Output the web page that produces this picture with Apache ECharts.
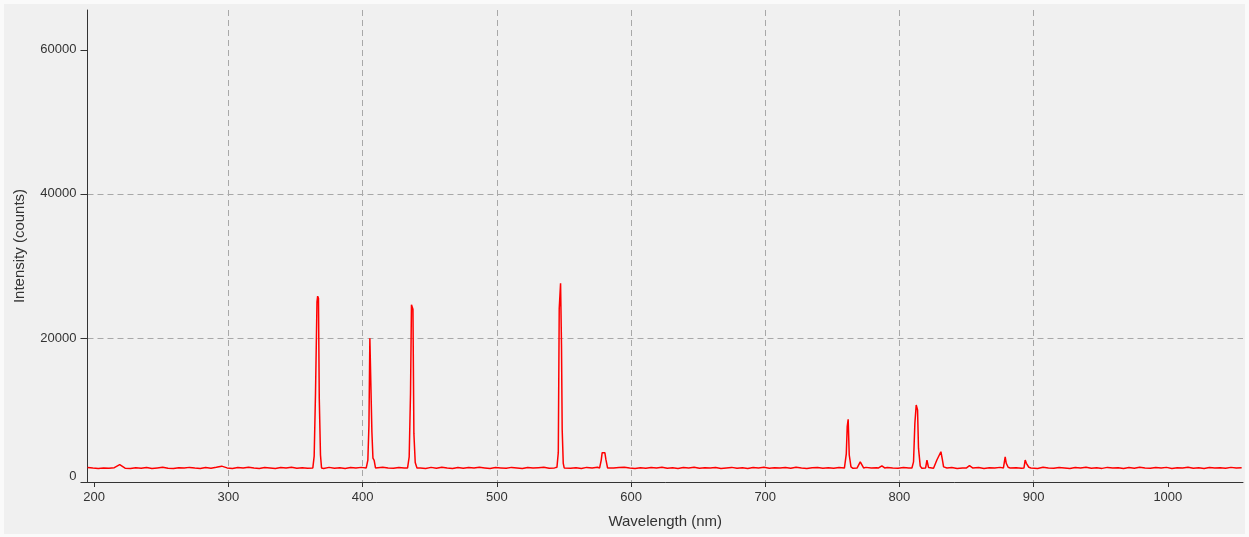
<!DOCTYPE html>
<html><head><meta charset="utf-8">
<script src="https://cdn.jsdelivr.net/npm/echarts@6/dist/echarts.min.js"></script>
<style>html,body{margin:0;padding:0;background:#fafafa;} #c{position:absolute;left:4px;top:4px;width:1241px;height:530px;}</style>
</head><body><div id="c"></div>
<script>
// Axis ticks
const xTickValues = [200, 300, 400, 500, 600, 700, 800, 900, 1000];
const yTickValues = [0, 20000, 40000, 60000];
const xName = 'Wavelength (nm)';
const yName = 'Intensity (counts)';

// Baseline (dark level) readings, sampled every 4 nm starting at 195 nm
const baseStartNm = 195;
const baseStepNm = 4;
const baselineCounts = [
  2010,1930,1880,1960,1900,1990,2400,1920,1870,1980,
  1900,2020,1860,1950,2040,1910,1870,1990,1930,2030,
  1950,1880,2000,1920,2050,2200,1960,1890,2010,1930,
  2040,1940,1890,2020,1960,1870,2000,1930,2050,1910,
  1980,1900,2000,1960,1880,2030,1920,1990,1870,2010,
  1940,2030,1950,1900,1880,2040,1960,1900,2020,1950,
  1970,1990,1960,1880,2030,1920,2050,1940,1890,2020,
  1900,2010,1930,2040,1960,1870,2000,1950,1900,2030,
  1960,1880,2020,1930,1990,2050,1900,1960,1980,2000,
  1920,1990,1870,2030,1950,2040,1900,1980,1930,2010,
  2040,1940,1880,1990,1910,2020,1950,2050,1900,1970,
  1880,2000,1940,2040,1900,1980,1930,2020,1870,1960,
  2030,1920,1990,1880,2010,1950,2040,1910,1970,1930,
  2000,1900,2050,1950,1880,1990,2020,1920,1980,1900,
  2010,1940,1960,1890,1950,2030,1930,1970,1880,2020,
  1950,1900,2000,1940,1920,1960,1900,1990,1950,1980,
  1930,2010,1890,1960,2040,1920,2000,1870,1980,1940,
  2030,1960,1950,1990,1900,1930,2010,1880,2040,1950,
  1900,2020,1960,1870,2000,1940,2050,1910,1980,1890,
  2030,1950,1990,1880,2010,1920,2040,1960,1900,2000,
  1940,2030,1880,1990,1950,2050,1910,1970,1880,2020,
  1950,1990,1900,2030,1940,1980
];

// Emission lines: [wavelength nm, counts]
const peak366 = [[362.9,1950],[363.9,3600],[364.9,12400],[366.0,25000],[366.5,25800],[367.1,25500],[367.7,11600],[368.6,3750],[369.4,1950]];
const peak405 = [[402.7,1950],[403.9,3050],[404.7,7800],[405.4,19950],[406.2,19900],[406.9,7000],[407.7,3300],[408.6,3000],[409.6,1950]];
const peak436 = [[433.5,1950],[434.7,3500],[435.7,12400],[436.4,24600],[437.5,24000],[438.2,6750],[439.2,2700],[440.5,1950]];
const peak547 = [[544.8,2050],[545.8,4070],[546.5,24100],[547.5,27600],[548.0,27500],[548.2,18800],[548.7,7300],[549.5,2600],[550.2,1950]];
const peak579 = [[576.6,1950],[577.8,3050],[578.5,4070],[579.5,3850],[580.5,4070],[581.3,3100],[582.5,1950]];
const peak762 = [[759.6,1950],[760.4,3900],[761.1,7700],[761.8,8700],[762.6,3750],[763.9,2100],[765.4,1900],[768.5,1950],[770.8,2800],[773.3,1950]];
const peak787 = [[784.5,1950],[786.9,2250],[789.0,1950]];
const peak812 = [[809.3,1950],[810.5,2800],[811.5,8150],[812.5,10700],[813.5,10000],[814.2,4700],[815.5,2200],[816.7,1900],[819.5,1950],[820.5,3050],[821.7,2000],[825.4,1900],[827.9,3050],[829.1,2800],[830.9,4200],[831.9,3200],[832.9,2100],[835.4,1950]];
const peak852 = [[850.0,1950],[852.2,2260],[854.5,1950]];
const peak879 = [[877.5,1950],[878.2,2800],[878.8,3500],[879.6,2600],[881.0,2050],[882.5,1950]];
const peak894 = [[892.8,1950],[893.7,3050],[894.6,2600],[896.4,2050],[898.0,1950]];

const peaks = [peak366, peak405, peak436, peak547, peak579, peak762, peak787, peak812, peak852, peak879, peak894];

// Assemble the spectrum
let spectrum = [];
baselineCounts.forEach((c, i) => {
  const wl = baseStartNm + baseStepNm * i;
  const inside = peaks.some(p => wl >= p[0][0] && wl <= p[p.length - 1][0]);
  if (!inside) spectrum.push([wl, c]);
});
peaks.forEach(p => p.forEach(pt => spectrum.push(pt)));
spectrum.sort((a, b) => a[0] - b[0]);

const chart = echarts.init(document.getElementById('c'), null, {renderer: 'canvas'});
const font = '"Liberation Sans", Arial, sans-serif';
const gridStyle = {show: true, showMinLine: false, showMaxLine: false, lineStyle: {color: '#a8a8a8', type: [6, 4], width: 1}};
chart.setOption({
  backgroundColor: '#f0f0f0',
  animation: false,
  grid: {left: 83.5, top: 6, width: 1155.5, height: 472, containLabel: false},
  xAxis: {
    type: 'value', min: 195, max: 1056, interval: 100,
    name: xName, nameLocation: 'middle', nameGap: 32,
    nameTextStyle: {fontFamily: font, fontSize: 15, color: '#333'},
    axisLine: {show: true, onZero: false, lineStyle: {color: '#333', width: 1}},
    axisTick: {show: true, length: 5, lineStyle: {color: '#333'}, customValues: xTickValues},
    axisLabel: {fontFamily: font, fontSize: 13, color: '#333', margin: 9, customValues: xTickValues,
      formatter: v => String(v)},
    splitLine: gridStyle
  },
  yAxis: {
    type: 'value', min: 0, max: 65535, interval: 20000,
    name: yName, nameLocation: 'middle', nameGap: 60, nameRotate: 90,
    nameTextStyle: {fontFamily: font, fontSize: 15, color: '#333'},
    axisLine: {show: true, lineStyle: {color: '#333', width: 1}},
    axisTick: {show: true, length: 7, lineStyle: {color: '#333'}, customValues: yTickValues},
    axisLabel: {fontFamily: font, fontSize: 13, color: '#333', margin: 11, customValues: yTickValues,
      formatter: v => v === 0 ? '{z|0}' : String(v),
      rich: {z: {fontFamily: font, fontSize: 13, color: '#333', padding: [0, 0, 11, 0]}}},
    splitLine: gridStyle
  },
  series: [{
    type: 'line', data: spectrum, showSymbol: false, symbol: 'none', sampling: false,
    lineStyle: {color: '#ff0000', width: 1.5}, itemStyle: {color: '#ff0000'}, z: 5
  }]
});
</script></body></html>
